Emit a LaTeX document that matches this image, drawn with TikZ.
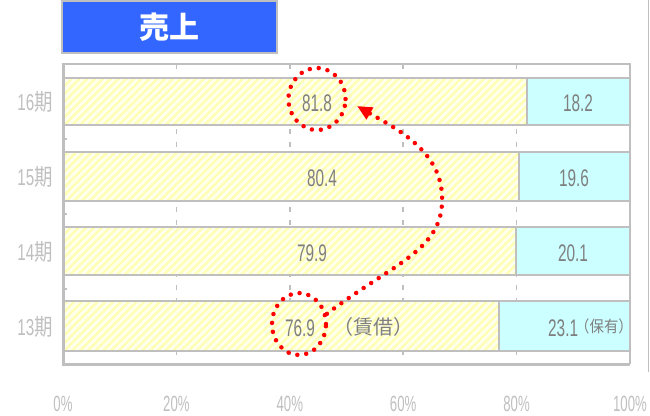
\documentclass[tikz,border=0pt]{standalone}
\usepackage{fontspec}
\setmainfont{Liberation Sans}
\newfontfamily\cjk{Noto Sans CJK JP}
\newfontfamily\cjknar[FakeStretch=0.8]{Noto Sans CJK JP}
\newfontfamily\cjkown[FakeStretch=0.9]{Noto Sans CJK JP}
\newfontfamily\narval[FakeStretch=0.64]{Liberation Sans}
\newfontfamily\narpct[FakeStretch=0.6]{Liberation Sans}
\newfontfamily\narcat[FakeStretch=0.66]{Liberation Sans}
\usetikzlibrary{patterns.meta,shapes.geometric,arrows.meta}
\definecolor{axisgray}{HTML}{BFBFBF}
\definecolor{valgray}{HTML}{7F7F7F}
\definecolor{barcyan}{HTML}{CCFFFF}
\definecolor{hatchy}{HTML}{FFFFB4}
\definecolor{hatchbg}{HTML}{FFFFEE}
\definecolor{titleblue}{HTML}{3366FF}
\definecolor{dotred}{HTML}{FF0000}
\begin{document}
\begin{tikzpicture}[x=1pt,y=-1pt,
  gridline/.style={draw=axisgray, line width=1.5pt, dash pattern=on 5pt off 8pt},
  barframe/.style={draw=axisgray, line width=1.5pt},
  rentbar/.style={barframe, preaction={fill=hatchbg}, pattern={Lines[angle=45,distance=5.5pt,line width=2.4pt]}, pattern color=hatchy},
  ownbar/.style={barframe, fill=barcyan},
  axisline/.style={draw=axisgray, line width=3pt},
  frameline/.style={draw=axisgray, line width=2pt},
  val/.style={text=valgray, font=\fontsize{24}{24}\selectfont\narval, inner sep=0pt},
  cat/.style={text=axisgray, font=\fontsize{23}{23}\selectfont\narcat, inner sep=0pt},
  pct/.style={text=axisgray, font=\fontsize{22}{22}\selectfont\narpct, inner sep=0pt},
  titlebox/.style={fill=titleblue, draw=axisgray, line width=1.5pt, minimum width=215pt, minimum height=52pt, text=white, font=\fontsize{30}{30}\selectfont\cjk\bfseries},
  reddots/.style={draw=dotred, line width=4.5pt, line cap=round, dash pattern=on 0pt off 9pt},
  ring/.style={reddots, ellipse, inner sep=0pt},
]
\useasboundingbox (0,0) rectangle (650,415);
% title
\node[titlebox] (title) at (169.5,27) {売上};
% right edge line
\draw[draw=axisgray, line width=1.5pt] (648.5,0) -- (648.5,372);
% grid
\foreach \gx in {176.4,289.8,403.2,516.6} {\draw[gridline] (\gx,64) -- (\gx,364);}
% bars
\path[rentbar] (63,78) rectangle (526.8,125);
\path[ownbar] (526.8,78) rectangle (630,125);
\path[rentbar] (63,152) rectangle (518.9,201);
\path[ownbar] (518.9,152) rectangle (630,201);
\path[rentbar] (63,227) rectangle (516.0,275);
\path[ownbar] (516.0,227) rectangle (630,275);
\path[rentbar] (63,301) rectangle (499.0,351);
\path[ownbar] (499.0,301) rectangle (630,351);
% category labels
\node[cat] (c16) at (35,102) {16{\cjknar 期}};
\node[cat] (c15) at (35,177) {15{\cjknar 期}};
\node[cat] (c14) at (35,252) {14{\cjknar 期}};
\node[cat] (c13) at (35,327) {13{\cjknar 期}};
% percent labels
\node[pct] (p0) at (63,404) {0\%};
\node[pct] (p20) at (176.4,404) {20\%};
\node[pct] (p40) at (289.8,404) {40\%};
\node[pct] (p60) at (403.2,404) {60\%};
\node[pct] (p80) at (516.6,404) {80\%};
\node[pct] (p100) at (630,404) {100\%};
% values
\node[val] (v16a) at (317,103) {81.8};
\node[val] (v16b) at (578,103) {18.2};
\node[val] (v15a) at (322,178) {80.4};
\node[val] (v15b) at (574,178) {19.6};
\node[val] (v14a) at (312,253) {79.9};
\node[val] (v14b) at (573,253) {20.1};
\node[val] (v13a) at (300,328) {76.9};
\node[val, anchor=west] (v13b) at (548,328) {23.1};
\node[text=valgray, font=\fontsize{20}{20}\selectfont\cjk, inner sep=0pt] (rent) at (373,327) {（賃借）};
\node[text=valgray, font=\fontsize{16}{16}\selectfont\cjkown, inner sep=0pt, anchor=west] (own) at (575,326) {（保有）};
% frame and axes
\draw[frameline] (63,64) -- (630,64) -- (630,364);
\draw[axisline] (63,63) -- (63,364) -- (630,364);
\foreach \ty in {64,139,214,289} {\draw[draw=axisgray, line width=2.5pt] (63,\ty) -- (67,\ty);}
% red annotations
\node[ring, minimum width=57pt, minimum height=62pt] (e16) at (317,99) {};
\node[ring, minimum width=54pt, minimum height=62pt] (e13) at (299,324) {};
\coordinate (tip) at (357,106);
\draw[reddots, -{Triangle[length=15pt,width=13pt]}] (e13.20) .. controls (395,262) and (445,250) .. (442,195) .. controls (440,150) and (395,128) .. (tip);
\end{tikzpicture}
\end{document}
